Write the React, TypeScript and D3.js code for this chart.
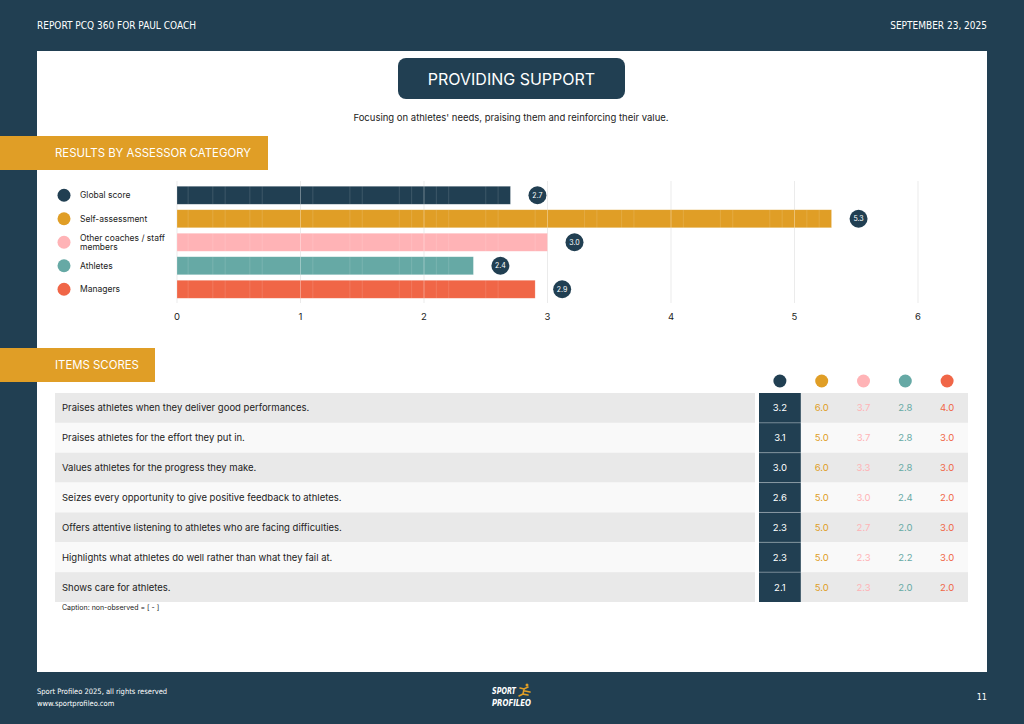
import * as d3 from 'd3'

const W = 1024, H = 724
const NAVY = '#213f52'
const FONT = 'Inter, "Noto Sans", sans-serif'
const NARROW = '"Liberation Sans Narrow", "DejaVu Sans Condensed", sans-serif'

// assessor categories and their overall scores
const categories = ['Global score', 'Self-assessment', 'Other coaches / staff members', 'Athletes', 'Managers']
const categoryLines = [['Global score'], ['Self-assessment'], ['Other coaches / staff', 'members'], ['Athletes'], ['Managers']]
const categoryScores = [2.7, 5.3, 3.0, 2.4, 2.9]
const categoryColors = [NAVY, '#e09e26', '#ffb3b6', '#66a9a5', '#f06647']
const xTicks = [0, 1, 2, 3, 4, 5, 6]
// faint segment seams running through the bars
const seams = [0.09, 0.29, 0.39, 0.59, 0.69, 1.1, 1.4, 1.5, 1.8, 1.9, 2.1, 2.2, 2.5, 2.6, 2.9, 3.3, 3.4, 3.6, 3.7, 4.1, 4.4, 4.5, 4.8, 4.9, 5.1, 5.2]

// item scores, one column per assessor category
const items = [
  'Praises athletes when they deliver good performances.',
  'Praises athletes for the effort they put in.',
  'Values athletes for the progress they make.',
  'Seizes every opportunity to give positive feedback to athletes.',
  'Offers attentive listening to athletes who are facing difficulties.',
  'Highlights what athletes do well rather than what they fail at.',
  'Shows care for athletes.',
]
const globalScores = [3.2, 3.1, 3.0, 2.6, 2.3, 2.3, 2.1]
const selfScores = [6.0, 5.0, 6.0, 5.0, 5.0, 5.0, 5.0]
const otherScores = [3.7, 3.7, 3.3, 3.0, 2.7, 2.3, 2.3]
const athleteScores = [2.8, 2.8, 2.8, 2.4, 2.0, 2.2, 2.0]
const managerScores = [4.0, 3.0, 3.0, 2.0, 3.0, 3.0, 2.0]

function SectionTag({ label, y, w }: { label: string; y: number; w: number }) {
  return (
    <g>
      <rect x={0} y={y} width={w} height={34} fill="#e09e26" />
      <text x={55} y={y + 17} dominantBaseline="central" fontSize={11.4} fill="#fff" fontFamily={FONT}>{label}</text>
    </g>
  )
}

export default function App() {
  const x = d3.scaleLinear().domain([0, 6]).range([177, 918])
  const y = d3.scaleBand<string>().domain(categories).range([183.5, 301]).paddingInner(0.234).paddingOuter(0.117)

  const cols = [globalScores, selfScores, otherScores, athleteScores, managerScores]
  const colX = d3.scaleBand<number>().domain(d3.range(cols.length)).range([759, 968])
  const rowY = d3.scaleBand<string>().domain(items).range([393, 602])

  return (
    <svg width={W} height={H} style={{ position: 'absolute', left: 0, top: 0, display: 'block' }} fontFamily={FONT}>
      <rect width={W} height={H} fill={NAVY} />
      <text x={37} y={25} dominantBaseline="central" fontSize={10} fill="#fff" fontFamily={NARROW}>REPORT PCQ 360 FOR PAUL COACH</text>
      <text x={987} y={25} dominantBaseline="central" textAnchor="end" fontSize={10} fill="#fff" fontFamily={NARROW}>SEPTEMBER 23, 2025</text>

      <rect x={37} y={51} width={950} height={621} fill="#fff" />

      <rect x={398} y={58} width={227} height={41} rx={8} fill={NAVY} />
      <text x={511.5} y={79} textAnchor="middle" dominantBaseline="central" fontSize={16} fill="#fff">PROVIDING SUPPORT</text>
      <text x={511} y={117} textAnchor="middle" dominantBaseline="central" fontSize={9.5} fill="#222">
        Focusing on athletes' needs, praising them and reinforcing their value.
      </text>

      <SectionTag label="RESULTS BY ASSESSOR CATEGORY" y={136} w={268} />

      {/* bar chart: grid */}
      {xTicks.map(t => (
        <g key={t}>
          <line x1={x(t)} x2={x(t)} y1={181} y2={303} stroke="#ebebeb" strokeWidth={1} />
          <text x={x(t)} y={316} textAnchor="middle" dominantBaseline="central" fontSize={9.5} fill="#222">{t}</text>
        </g>
      ))}

      {/* bar chart: legend, bars, value badges */}
      {categories.map((c, i) => {
        const by = y(c)!
        const cy = by + y.bandwidth() / 2
        const v = categoryScores[i]
        const lines = categoryLines[i]
        return (
          <g key={c}>
            <circle cx={64} cy={cy} r={6.5} fill={categoryColors[i]} />
            {lines.map((l, k) => (
              <text key={k} x={80} y={cy + (k - (lines.length - 1) / 2) * 9} dominantBaseline="central" fontSize={8.5} fill="#222">{l}</text>
            ))}
            <rect x={x(0)} y={by} width={x(v) - x(0)} height={y.bandwidth()} fill={categoryColors[i]} stroke="#fff" strokeOpacity={0.35} strokeWidth={0.6} />
            {seams.filter(s => s < v).map(s => (
              <line key={s} x1={x(s)} x2={x(s)} y1={by} y2={by + y.bandwidth()} stroke="#fff" strokeOpacity={0.13} strokeWidth={1} />
            ))}
            {xTicks.filter(t => t > 0 && t < v).map(t => (
              <line key={'g' + t} x1={x(t)} x2={x(t)} y1={by} y2={by + y.bandwidth()} stroke="#fff" strokeOpacity={0.35} strokeWidth={1} />
            ))}
            <circle cx={x(v) + 27} cy={cy} r={9} fill={NAVY} />
            <text x={x(v) + 27} y={cy} textAnchor="middle" dominantBaseline="central" fontSize={7} fill="#fff">{v.toFixed(1)}</text>
          </g>
        )
      })}

      <SectionTag label="ITEMS SCORES" y={348} w={155} />

      {/* items table */}
      {cols.map((_, j) => (
        <circle key={j} cx={colX(j)! + colX.bandwidth() / 2} cy={381} r={6.5} fill={categoryColors[j]} />
      ))}
      {items.map((it, i) => {
        const ry = rowY(it)!
        const rh = rowY.bandwidth()
        const bg = i % 2 === 0 ? '#e9e9e9' : '#f9f9f9'
        return (
          <g key={it}>
            <rect x={55} y={ry} width={700} height={rh} fill={bg} />
            <rect x={colX(0)! + colX.bandwidth()} y={ry} width={968 - colX(0)! - colX.bandwidth()} height={rh} fill={bg} />
            <rect x={colX(0)} y={ry} width={colX.bandwidth()} height={rh} fill={NAVY} />
            {i > 0 && <line x1={colX(0)} x2={colX(0)! + colX.bandwidth()} y1={ry} y2={ry} stroke="#fff" strokeOpacity={0.3} />}
            <text x={62} y={ry + rh / 2} dominantBaseline="central" fontSize={9.5} fill="#222">{it}</text>
            {cols.map((vals, j) => (
              <text key={j} x={colX(j)! + colX.bandwidth() / 2} y={ry + rh / 2} textAnchor="middle" dominantBaseline="central"
                fontSize={9.5} fill={j === 0 ? '#fff' : categoryColors[j]}>{vals[i].toFixed(1)}</text>
            ))}
          </g>
        )
      })}
      <text x={62} y={607} dominantBaseline="central" fontSize={7} fill="#222">Caption: non-observed = [ - ]</text>

      {/* footer */}
      <text x={37} y={691} dominantBaseline="central" fontSize={7.5} fill="#fff" fontFamily={NARROW}>Sport Profileo 2025, all rights reserved</text>
      <text x={37} y={703} dominantBaseline="central" fontSize={7.5} fill="#fff" fontFamily={NARROW}>www.sportprofileo.com</text>
      <g fontStyle="italic" fontWeight={700} fontSize={9.5} fill="#fff" fontFamily={NARROW}>
        <text x={492} y={694} textLength={24} lengthAdjust="spacingAndGlyphs">SPORT</text>
        <text x={492} y={706} textLength={39} lengthAdjust="spacingAndGlyphs">PROFILEO</text>
      </g>
      <path d="M520,688 l4,1 l4,-2 M524,689 l-1,5 l5,1 M523,694 l-4,2 M525,691 l5,1" stroke="#e09e26" strokeWidth={1.6} fill="none" strokeLinecap="round" />
      <circle cx={527} cy={685} r={1.5} fill="#e09e26" />
      <text x={987} y={697} dominantBaseline="central" textAnchor="end" fontSize={9} fill="#fff" fontFamily={NARROW}>11</text>
    </svg>
  )
}
